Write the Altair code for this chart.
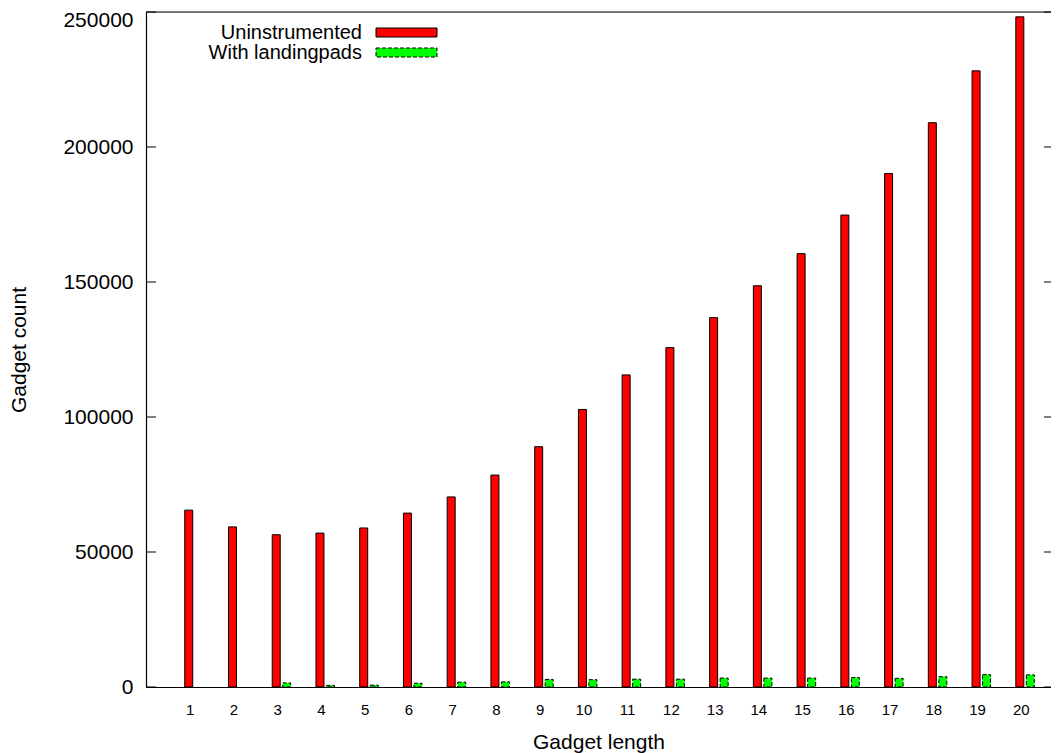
import altair as alt
import pandas as pd

# ---- data ----
lengths = list(range(1, 21))
uninstrumented = [65500, 59300, 56400, 57000, 58900, 64400, 70400, 78500, 89000, 102800,
                  115600, 125700, 136800, 148600, 160500, 174800, 190200, 209000, 228200, 248200]
landingpads = [0, 0, 1500, 600, 700, 1400, 1800, 1900, 2800, 2700,
               2900, 2900, 3300, 3300, 3300, 3500, 3200, 3800, 4600, 4500]
series_names = ["Uninstrumented", "With landingpads"]
series_colors = ["#ff0000", "#00ff00"]
y_ticks = [0, 50000, 100000, 150000, 200000, 250000]

W, H = 905, 675
FONT = "Liberation Sans"

df = pd.DataFrame({"length": lengths, "unins": uninstrumented, "pads": landingpads})
tick_df = pd.DataFrame({"v": y_ticks})
one_df = pd.DataFrame({"v": [0]})

xscale = alt.Scale(domain=[0, 20.69], nice=False, zero=False, padding=0)
yscale = alt.Scale(domain=[0, 250000], nice=False, padding=0)

x_axis = alt.Axis(values=lengths, format="d", ticks=False, tickSize=0, domain=True,
                  domainColor="black", domainWidth=1.2, grid=False,
                  labelFontSize=15, labelPadding=15, labelFont=FONT, labelColor="black",
                  title="Gadget length", titleFontSize=21, titleFont=FONT, titleFontWeight="normal",
                  titlePadding=14, titleColor="black")
y_axis = alt.Axis(values=y_ticks, format="d", ticks=False, tickSize=0, domain=True,
                  domainColor="black", domainWidth=1.2, grid=False,
                  labelFontSize=21, labelPadding=13, labelFont=FONT, labelColor="black",
                  labelOffset={"condition": {"test": "datum.value == 250000", "value": 8}, "value": 0},
                  title="Gadget count", titleFontSize=21, titleFont=FONT, titleFontWeight="normal",
                  titlePadding=33, titleColor="black")

red = alt.Chart(df).mark_bar(width=8, xOffset=-1, color=series_colors[0], stroke="black",
                             strokeWidth=1).encode(
    x=alt.X("length:Q", scale=xscale, axis=x_axis),
    y=alt.Y("unins:Q", scale=yscale, axis=y_axis),
)
green = alt.Chart(df).transform_filter("datum.pads > 0").mark_bar(
    width=8, xOffset=9.5, color=series_colors[1], stroke="black",
    strokeWidth=1, strokeDash=[4, 2]).encode(
    x=alt.X("length:Q", scale=xscale, axis=x_axis),
    y=alt.Y("pads:Q", scale=yscale, axis=y_axis),
)

left_ticks = alt.Chart(tick_df).mark_rule(color="black", strokeWidth=1).encode(
    y=alt.Y("v:Q", scale=yscale, axis=y_axis), x=alt.value(0), x2=alt.value(10))
right_ticks = alt.Chart(tick_df).mark_rule(color="black", strokeWidth=1).encode(
    y=alt.Y("v:Q", scale=yscale, axis=y_axis), x=alt.value(W - 7), x2=alt.value(W))
top_border = alt.Chart(one_df).mark_rule(color="black", strokeWidth=1.2).encode(
    y=alt.value(0), x=alt.value(0), x2=alt.value(W))

legend_layers = []
for i, (name, col) in enumerate(zip(series_names, series_colors)):
    ldf = pd.DataFrame({"s": [name]})
    legend_layers.append(
        alt.Chart(ldf).mark_text(align="right", baseline="alphabetic", fontSize=20, font=FONT,
                                 color="black").encode(
            text="s:N", x=alt.value(216), y=alt.value(26.5 + 20 * i))
    )
    rect_kwargs = dict(color=col, stroke="black", strokeWidth=1)
    if i == 1:
        rect_kwargs["strokeDash"] = [4, 2]
    legend_layers.append(
        alt.Chart(ldf).mark_rect(**rect_kwargs).encode(
            x=alt.value(230), x2=alt.value(291),
            y=alt.value(16 + 20 * i), y2=alt.value(25 + 20 * i))
    )

chart = alt.layer(red, green, left_ticks, right_ticks, top_border, *legend_layers).properties(
    width=W, height=H,
    autosize=alt.AutoSizeParams(type="none"),
    padding={"left": 138, "top": 4, "right": 0, "bottom": 66},
).configure_view(stroke=None).configure(background="white")

chart.save("out.html", embed_options={"renderer": "svg", "actions": False})
